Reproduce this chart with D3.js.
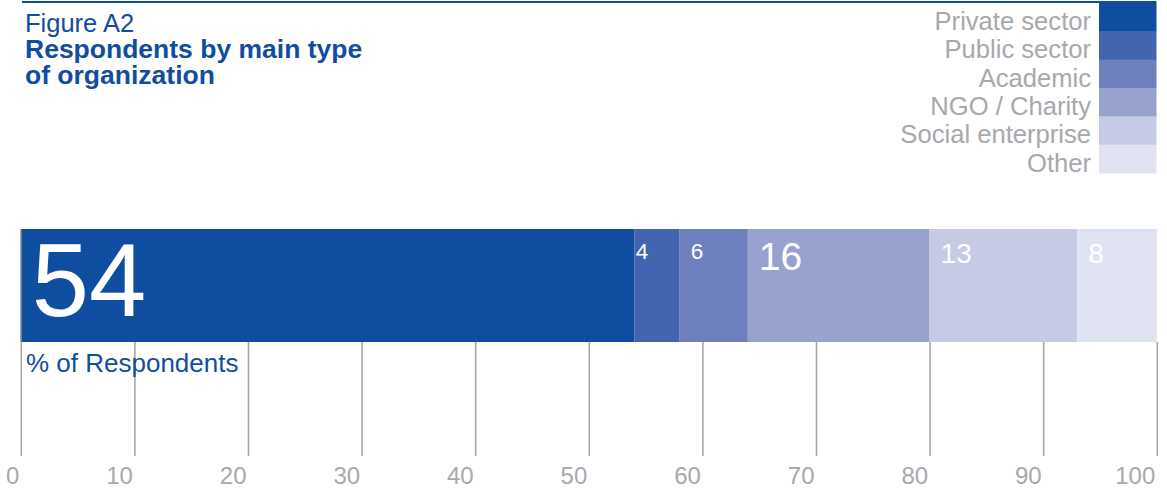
<!DOCTYPE html>
<html>
<head>
<meta charset="utf-8">
<script src="https://cdn.jsdelivr.net/npm/d3@7"></script>
<style>
  html, body { margin: 0; padding: 0; background: #ffffff; }
  svg { display: block; }
  text { font-family: "Liberation Sans", Arial, Helvetica, sans-serif; }
</style>
</head>
<body>
<svg id="chart" width="1167" height="494"></svg>
<script>
// ---- data ----
const categories = ["Private sector", "Public sector", "Academic", "NGO / Charity", "Social enterprise", "Other"];
const values = [54, 4, 6, 16, 13, 8];
const tickValues = [0, 10, 20, 30, 40, 50, 60, 70, 80, 90, 100];
const figureLabel = "Figure A2";
const titleLines = ["Respondents by main type", "of organization"];
const unitLabel = "% of Respondents";

// ---- styles ----
const colors = ["#0e4da0", "#4364ae", "#6e7fbd", "#98a2cf", "#c6cae5", "#e0e3f1"];
const blue = "#114d9f";
const grey = "#a7a9ac";
const gridGrey = "#aaa7a4";

const svg = d3.select("#chart");

// scales
const x = d3.scaleLinear().domain([0, 100]).range([20.8, 1156.8]).clamp(true);
const color = d3.scaleOrdinal().domain(categories).range(colors);
const legendY = d3.scaleBand().domain(categories).range([3, 173]);
const labelSize = d3.scaleThreshold().domain([7, 14, 20]).range([22.5, 28, 39, 103]);

const barTop = 229, barBottom = 342, gridBottom = 456;

// top rule
svg.append("line")
  .attr("x1", 22).attr("x2", 1156.5).attr("y1", 2).attr("y2", 2)
  .attr("stroke", blue).attr("stroke-width", 2);

// title
svg.append("text").attr("x", 25).attr("y", 32)
  .attr("fill", blue).attr("font-size", 25.5).text(figureLabel);
svg.selectAll("text.title").data(titleLines).join("text")
  .attr("class", "title")
  .attr("x", 25).attr("y", (d, i) => 57.5 + i * 26.5)
  .attr("fill", blue).attr("font-size", 26.5).attr("font-weight", "bold")
  .text(d => d);

// legend
const leg = svg.append("g");
leg.selectAll("rect").data(categories).join("rect")
  .attr("x", 1099).attr("width", 57.5)
  .attr("y", d => legendY(d)).attr("height", legendY.bandwidth() + 0.5)
  .attr("fill", d => color(d));
leg.selectAll("text").data(categories).join("text")
  .attr("x", 1091).attr("y", d => legendY(d) + legendY.bandwidth() - 1.5)
  .attr("text-anchor", "end").attr("fill", grey).attr("font-size", 25.6)
  .text(d => d);

// stacked segments
const ends = d3.cumsum(values);
const segs = values.map((v, i) => ({ cat: categories[i], value: v, start: ends[i] - v, end: ends[i] }));

svg.selectAll("rect.seg").data(segs).join("rect")
  .attr("class", "seg")
  .attr("x", d => x(d.start))
  .attr("width", d => x(d.end) - x(d.start))
  .attr("y", barTop).attr("height", barBottom - barTop)
  .attr("fill", d => color(d.cat));

svg.selectAll("text.val").data(segs).join("text")
  .attr("class", "val")
  .attr("x", d => x(d.start) + ((x(d.end) - x(d.start)) < 50 ? 1.5 : 11))
  .attr("y", d => 242.5 + 0.716 * labelSize(d.value))
  .attr("fill", "#ffffff")
  .attr("font-size", d => labelSize(d.value))
  .text(d => d.value);

// axis with gridlines below bar
const axis = d3.axisBottom(x).tickValues(tickValues).tickSize(gridBottom - barBottom).tickSizeOuter(0);
const gAxis = svg.append("g").attr("transform", `translate(0,${barBottom})`).call(axis);
gAxis.select(".domain").remove();
gAxis.selectAll(".tick line").attr("stroke", gridGrey).attr("stroke-width", 1.6);
gAxis.selectAll(".tick text")
  .attr("y", 142).attr("dy", 0).attr("x", -2)
  .attr("text-anchor", "end")
  .attr("fill", grey).attr("font-size", 24)
  .attr("font-family", "Liberation Sans, Arial, sans-serif");

// zero line running up the bar's left edge
svg.append("line")
  .attr("x1", x(0)).attr("x2", x(0)).attr("y1", barTop).attr("y2", barBottom)
  .attr("stroke", gridGrey).attr("stroke-width", 1.6);

// unit label
svg.append("text").attr("x", 26).attr("y", 371.5)
  .attr("fill", blue).attr("font-size", 26).text(unitLabel);
</script>
</body>
</html>
